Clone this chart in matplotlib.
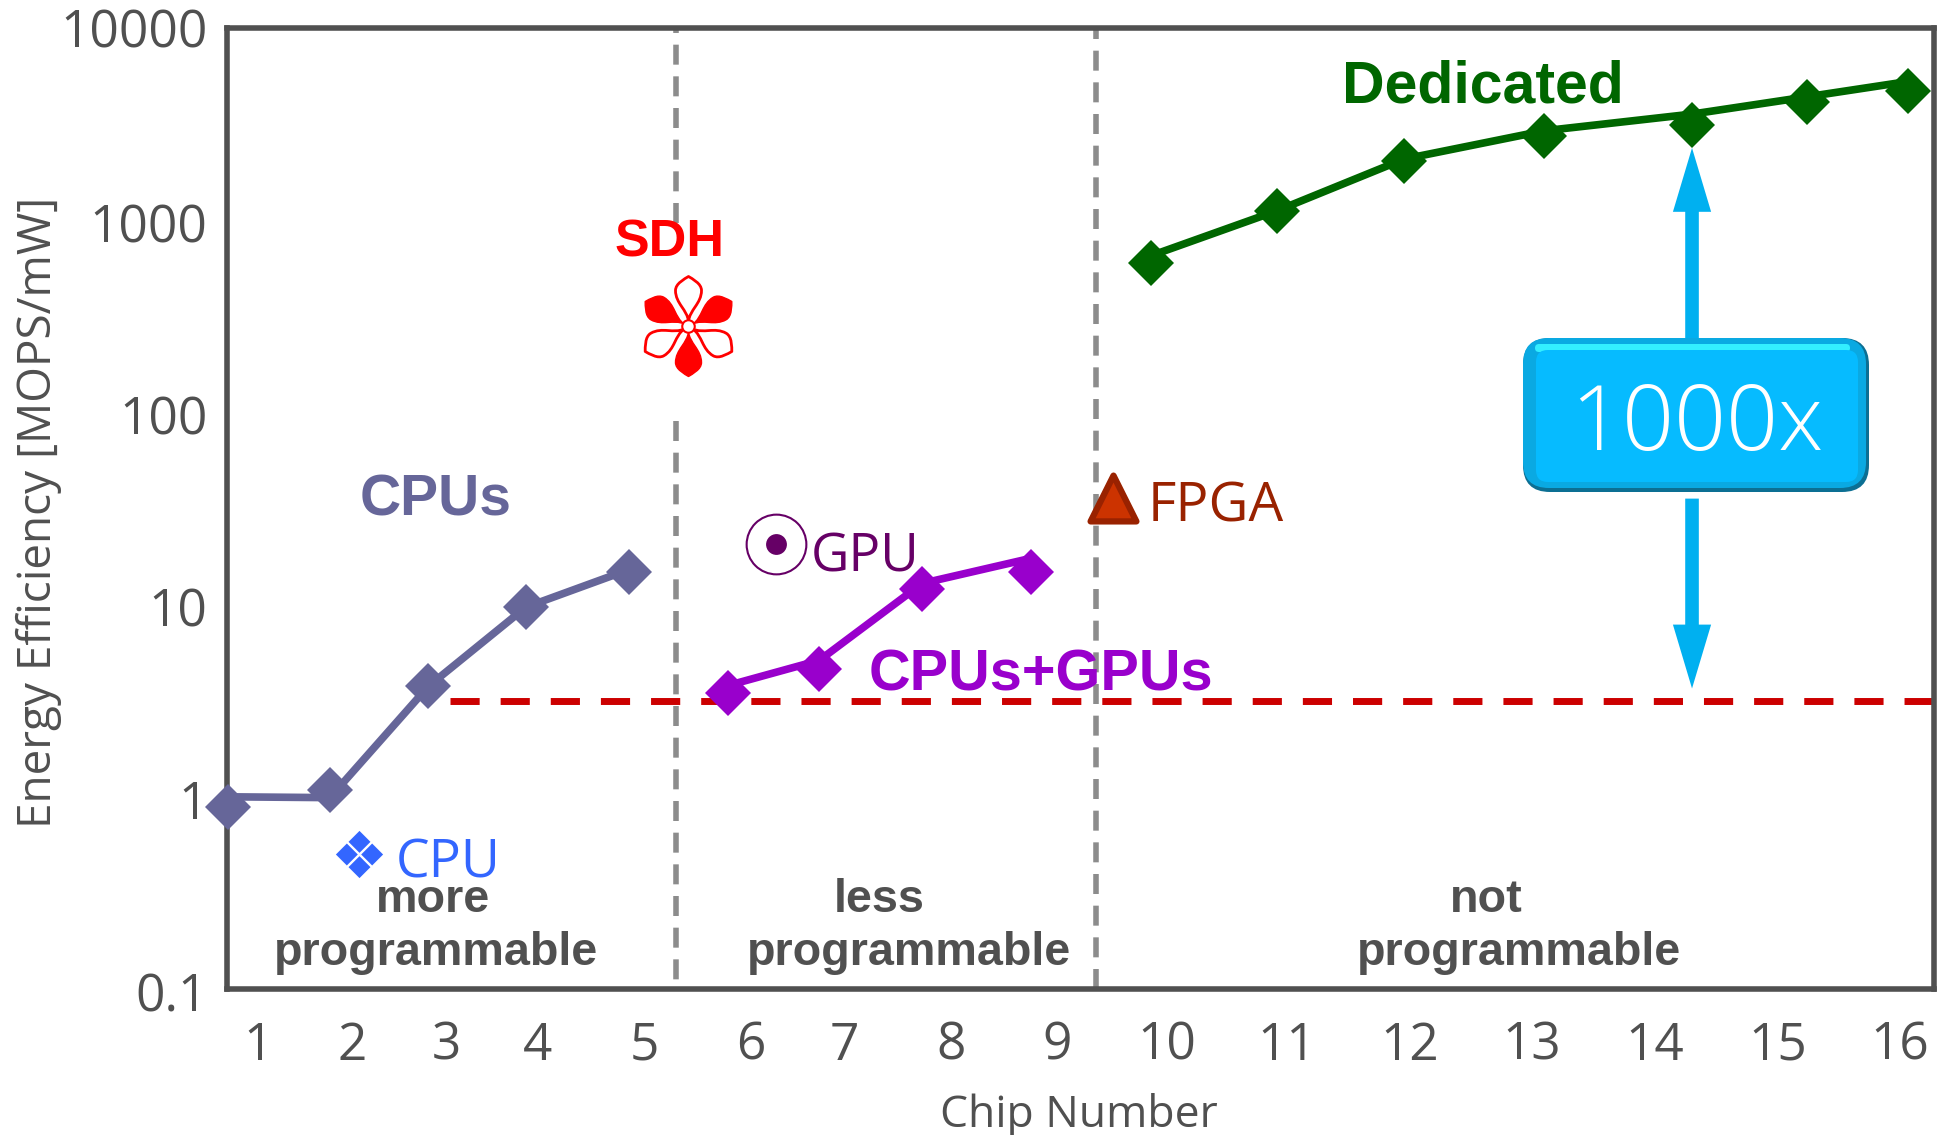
import numpy as np
import matplotlib
matplotlib.use("Agg")
import matplotlib.pyplot as plt
from matplotlib.markers import MarkerStyle
from matplotlib.path import Path
from matplotlib.patches import FancyBboxPatch
from matplotlib.transforms import Affine2D, ScaledTranslation

# ---------- data ----------
tick_positions = [1, 1.86, 2.72, 3.56, 4.53, 5.5, 6.36, 7.33, 8.3, 9.3, 10.4, 11.52, 12.64, 13.76, 14.88, 16]
tick_labels = [str(i) for i in range(1, 17)]
y_ticks = [0.1, 1, 10, 100, 1000, 10000]
y_tick_labels = ["0.1", "1", "10", "100", "1000", "10000"]

cpu_x = [0.73, 1.66, 2.56, 3.45, 4.39]
cpu_marker = [0.88, 1.09, 3.76, 9.7, 14.7]
cpu_line = [1.0, 0.99, 3.76, 9.7, 15.2]

gpu_x = [5.30, 6.13, 7.07, 8.06]
gpu_marker = [3.46, 4.6, 12.0, 14.7]
gpu_line = [3.8, 5.13, 12.9, 17.4]

ded_x = [9.16, 10.31, 11.47, 12.75, 14.10, 15.15, 16.07]
ded_marker = [600, 1110, 2040, 2730, 3125, 4130, 4715]
ded_line = [654, 1120, 2080, 2920, 3565, 4385, 5265]

sdh_x, sdh_y = [4.93], [280]
cpu_single_x, cpu_single_y = [1.93], [0.505]
gpu_single_x, gpu_single_y = [5.73], [20.6]
fpga_x, fpga_y = [8.81], [36.0]

ref_level = 3.16
ref_level_x = [2.757, 16.31]
divider_x = [4.82, 8.66]
arrow_x = 14.10
arrow_up = (236, 2377)
arrow_down = (35.6, 3.66)

# ---------- figure ----------
W, H = 1952, 1135
DARK = "#505050"
plt.rcParams["font.family"] = ["Open Sans", "DejaVu Sans"]
fig = plt.figure(figsize=(W / 100, H / 100), dpi=100, facecolor="white")
L, R, T, B = 227, 1934, 28, 989
ax = fig.add_axes([L / W, 1 - B / H, (R - L) / W, (B - T) / H])
ax.set_yscale("log")
ax.set_xlim(0.72, 16.31)
ax.set_ylim(0.1, 10000)
for s in ax.spines.values():
    s.set_linewidth(4)
    s.set_color(DARK)
    s.set_zorder(2)
ax.set_xticks(tick_positions, tick_labels)
ax.set_yticks(y_ticks, y_tick_labels)
ax.minorticks_off()
ax.tick_params(axis="both", length=0, labelsize=37, labelcolor=DARK)
ax.tick_params(axis="x", pad=23)
ax.tick_params(axis="y", pad=14)
nudge = ScaledTranslation(0, -2.5 / 100, fig.dpi_scale_trans)
for tl in ax.get_yticklabels()[:-1]:
    tl.set_transform(tl.get_transform() + nudge)
ax.set_xlabel("Chip Number", fontsize=32, color=DARK)
ax.set_ylabel("Energy Efficiency [MOPS/mW]", fontsize=33, color=DARK)
ax.xaxis.set_label_coords(0.499, -0.132)
ax.yaxis.set_label_coords(-0.110, 0.4957)
ax.xaxis.label.set_va("center")
ax.yaxis.label.set_va("center")

# reference-space transforms for annotations (shrunk view coords / full px coords)
ref = Affine2D().scale(W / 1568, -H / 912).translate(0, H)
px = Affine2D().scale(1, -1).translate(0, H)

# dividers
grey = dict(color="#8C8C8C", lw=4, dashes=(3.6, 2.1), dash_capstyle="butt", zorder=1)
ax.plot([divider_x[0]] * 2, [968, 10000], **grey)
ax.plot([divider_x[0]] * 2, [90, 0.1], **grey)
ax.plot([divider_x[1]] * 2, [0.1, 10000], **grey)

# reference line
ax.plot(ref_level_x, [ref_level] * 2, color="#CC0000", lw=5,
        dashes=(4.2, 3.02), dash_capstyle="butt", zorder=1.5)

# series
for x, line, marker, col in [(cpu_x, cpu_line, cpu_marker, "#666699"),
                             (gpu_x, gpu_line, gpu_marker, "#9900CC"),
                             (ded_x, ded_line, ded_marker, "#006600")]:
    ax.plot(x, line, color=col, lw=5.5, zorder=3, clip_on=False)
    ax.plot(x, marker, ls="none", marker="D", ms=23, mfc=col, mec=col, mew=0,
            zorder=4, clip_on=False)


# SDH flower
def petal(angle):
    v = np.array([(0, .10), (.02, .33), (.26, .46), (.26, .72), (.26, .86), (.08, .95), (0, 1),
                  (-.08, .95), (-.26, .86), (-.26, .72), (-.26, .46), (-.02, .33), (0, .10)])
    a = np.deg2rad(angle)
    rot = np.array([[np.cos(a), -np.sin(a)], [np.sin(a), np.cos(a)]])
    return v @ rot.T


def flower(angles):
    verts, codes = [], []
    for an in angles:
        verts += list(petal(an))
        codes += [Path.MOVETO] + [Path.CURVE4] * 12
    return Path(np.array(verts), codes)


ms_fl = 72
ax.plot(sdh_x, sdh_y, ls="none", marker=flower([120, 240, 0]), ms=ms_fl,
        mfc="white", mec="#FF0000", mew=2, zorder=4)
ax.plot(sdh_x, sdh_y, ls="none", marker=flower([60, 180, 300]), ms=ms_fl,
        mfc="#FF0000", mec="#FF0000", mew=1, zorder=4)
ax.plot(sdh_x, sdh_y, ls="none", marker="o", ms=9, mfc="white", mec="#FF0000", mew=1.5, zorder=5)

# single CPU marker: four small diamonds
d = 0.46
sq = []
codes = []
for cx, cy in [(0, .53), (0, -.53), (.53, 0), (-.53, 0)]:
    sq += [(cx, cy + d), (cx + d, cy), (cx, cy - d), (cx - d, cy), (cx, cy + d)]
    codes += [Path.MOVETO, Path.LINETO, Path.LINETO, Path.LINETO, Path.CLOSEPOLY]
ax.plot(cpu_single_x, cpu_single_y, ls="none", marker=Path(sq, codes), ms=34,
        mfc="#3366FF", mew=0, zorder=4)

# GPU marker
ax.plot(gpu_single_x, gpu_single_y, ls="none", marker="o", ms=43, mfc="none",
        mec="#660066", mew=1.5, zorder=4)
ax.plot(gpu_single_x, gpu_single_y, ls="none", marker="o", ms=15, mfc="#660066",
        mew=0, zorder=4)

# FPGA marker
tri = Path([(-.5, -.5), (0, .5), (.5, -.5), (-.5, -.5)],
           [Path.MOVETO, Path.LINETO, Path.LINETO, Path.CLOSEPOLY])
ax.plot(fpga_x, fpga_y, ls="none", marker=MarkerStyle(tri, joinstyle="round"), ms=33,
        mfc="#CC3300", mec="#992200", mew=4.5, zorder=4, clip_on=False)

# 1000x arrows
for (start, tip) in (arrow_up, arrow_down):
    ax.annotate("", xy=(arrow_x, tip), xytext=(arrow_x, start),
                arrowprops=dict(width=9.8, headwidth=27.5, headlength=46,
                                facecolor="#00B0F0", edgecolor="none", shrink=0),
                zorder=5)


# 1000x bevelled box
def box(x0, y0, x1, y1, r, col, z):
    fig.add_artist(FancyBboxPatch((x0, y0), x1 - x0, y1 - y0,
                                  boxstyle=f"round,pad=0,rounding_size={r}",
                                  fc=col, ec="none", transform=px, zorder=z))


box(1523, 338, 1869, 492, 27, "#0C6F93", 6)
box(1523, 338, 1866, 488, 26, "#0AA9E2", 6.1)
box(1535, 344, 1850, 352, 4, "#33EEFF", 6.2)
box(1536, 350, 1858, 482, 12, "#06BBFF", 6.3)


def label(x, y, s, col, size, ha="center", weight="normal", family=None, z=8):
    fig.text(x, y, s, color=col, fontsize=size, ha=ha, va="center", fontweight=weight,
             family=family or plt.rcParams["font.family"], transform=ref, zorder=z)


BOLD = "Liberation Sans"
label(1363, 343, "1000x", "white", 65.5, weight="light")
label(350, 402, "CPUs", "#666699", 41, weight="bold", family=BOLD)
label(538, 195, "SDH", "#FF0000", 37.5, weight="bold", family=BOLD)
label(836, 543, "CPUs+GPUs", "#9900CC", 41.5, weight="bold", family=BOLD)
label(1191, 70, "Dedicated", "#006600", 42.5, weight="bold", family=BOLD)
label(318, 694, "CPU", "#3366FF", 38.5, ha="left")
label(651, 448, "GPU", "#660066", 38, ha="left")
label(922, 407, "FPGA", "#992200", 39.5, ha="left")
for x, y, s in [(348, 723, "more"), (350, 766, "programmable"),
                (706, 723, "less"), (730, 766, "programmable"),
                (1194, 723, "not"), (1220, 766, "programmable")]:
    label(x, y, s, DARK, 33.7, weight="bold", family=BOLD)

fig.savefig("out.png", dpi=100)
